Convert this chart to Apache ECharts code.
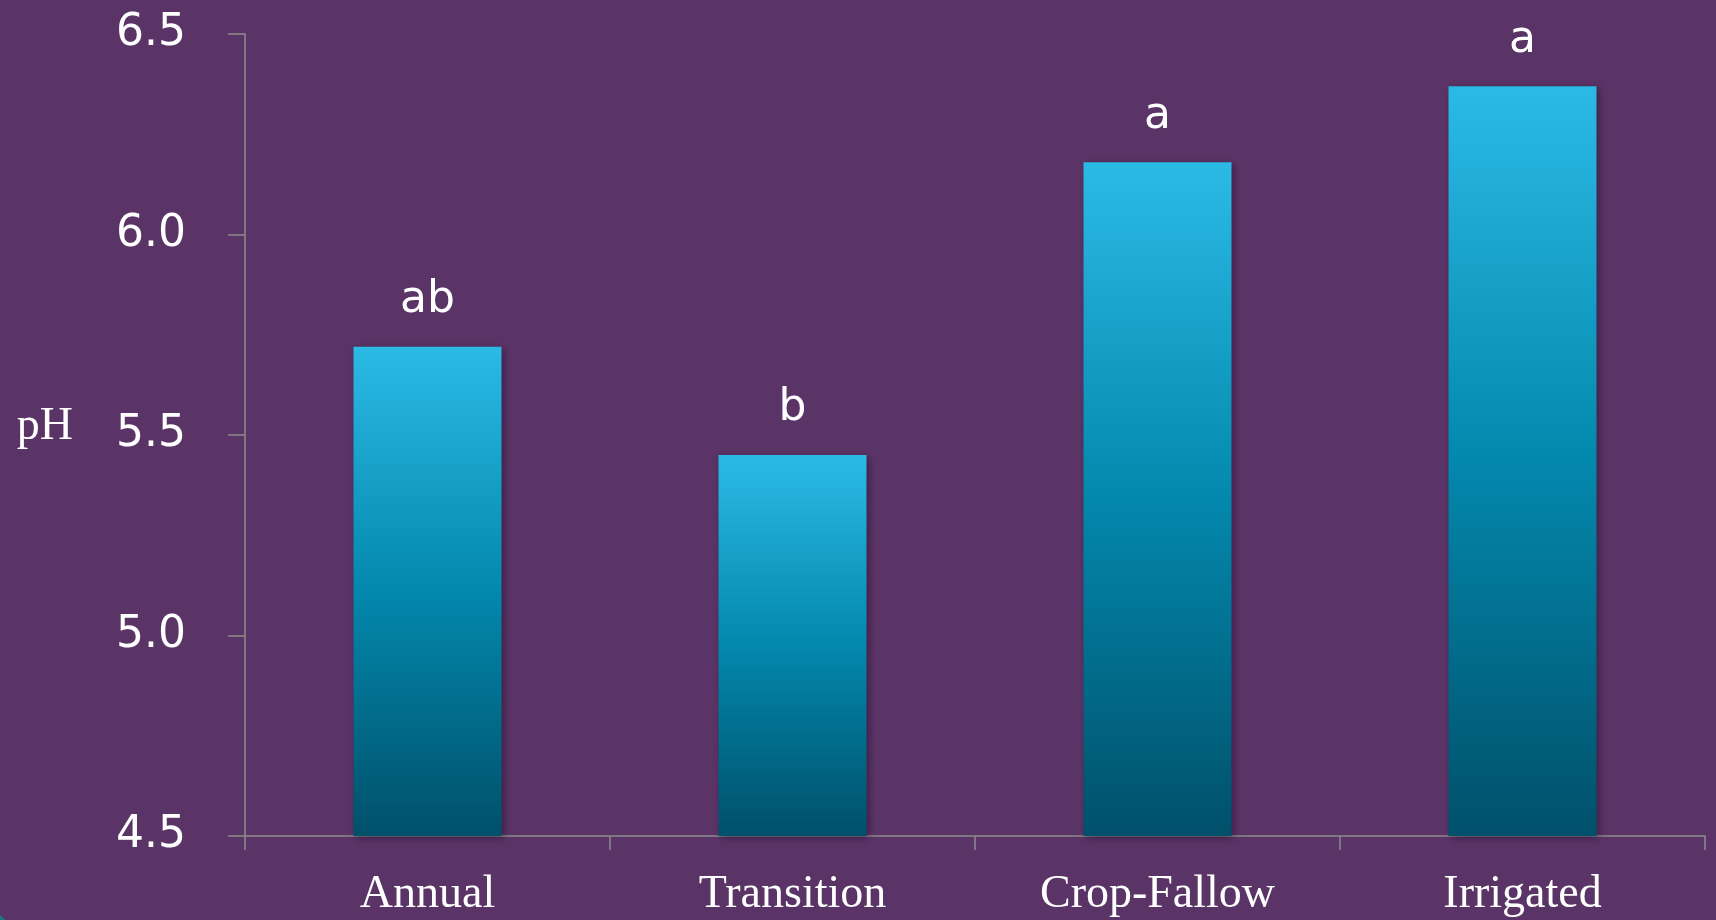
<!DOCTYPE html>
<html>
<head>
<meta charset="utf-8">
<title>Soil pH by system</title>
<script src="https://cdn.jsdelivr.net/npm/echarts@6/dist/echarts.min.js"></script>
<style>
  html, body { margin: 0; padding: 0; background: #5a3466; }
  #chart { width: 1716px; height: 920px; }
</style>
</head>
<body>
<div id="chart"></div>
<script>
// Cropping systems and their mean soil pH
const categories = ['Annual', 'Transition', 'Crop-Fallow', 'Irrigated'];
const phValues = [5.72, 5.45, 6.18, 6.37];
// Mean-separation letters shown above each bar
const groupLetters = ['ab', 'b', 'a', 'a'];
const yTicks = [4.5, 5.0, 5.5, 6.0, 6.5];

const chart = echarts.init(document.getElementById('chart'));

const barGradient = new echarts.graphic.LinearGradient(0, 0, 0, 1, [
  { offset: 0, color: '#2bbae5' },
  { offset: 0.5, color: '#0388ad' },
  { offset: 1, color: '#00506a' }
]);

chart.setOption({
  backgroundColor: '#5a3466',
  animation: false,
  grid: { left: 245, right: 11, top: 34, bottom: 84, containLabel: false },
  xAxis: {
    type: 'category',
    data: categories,
    axisLine: { lineStyle: { color: '#8c8c8c', width: 1.5 } },
    axisTick: { show: true, length: 14, lineStyle: { color: '#8c8c8c', width: 1.5 } },
    axisLabel: {
      color: '#ffffff',
      fontFamily: 'Liberation Serif',
      fontSize: 46,
      margin: 36
    }
  },
  yAxis: {
    type: 'value',
    min: yTicks[0],
    max: yTicks[yTicks.length - 1],
    interval: 0.5,
    name: 'pH',
    nameLocation: 'middle',
    nameRotate: 0,
    nameGap: 172,
    nameTextStyle: {
      color: '#ffffff',
      fontFamily: 'Liberation Serif',
      fontSize: 46,
      verticalAlign: 'bottom',
      lineHeight: 16
    },
    splitLine: { show: false },
    axisLine: { show: true, lineStyle: { color: '#8c8c8c', width: 1.5 } },
    axisTick: { show: true, length: 17, lineStyle: { color: '#8c8c8c', width: 1.5 } },
    axisLabel: {
      color: '#ffffff',
      fontFamily: 'DejaVu Sans',
      fontSize: 44,
      margin: 59,
      padding: [0, 0, 14, 0],
      formatter: v => v.toFixed(1)
    }
  },
  series: [{
    type: 'bar',
    data: phValues,
    barWidth: 148,
    itemStyle: {
      color: barGradient,
      shadowColor: 'rgba(20, 0, 30, 0.45)',
      shadowBlur: 8,
      shadowOffsetX: 2,
      shadowOffsetY: 2
    },
    label: {
      show: true,
      position: 'top',
      distance: 24,
      color: '#ffffff',
      fontFamily: 'DejaVu Sans',
      fontSize: 44,
      formatter: p => groupLetters[p.dataIndex]
    }
  }],
  graphic: [{
    type: 'circle',
    shape: { cx: -300, cy: 1230, r: 435 },
    style: { fill: '#147a8a' },
    z: -1
  }]
});
</script>
</body>
</html>
